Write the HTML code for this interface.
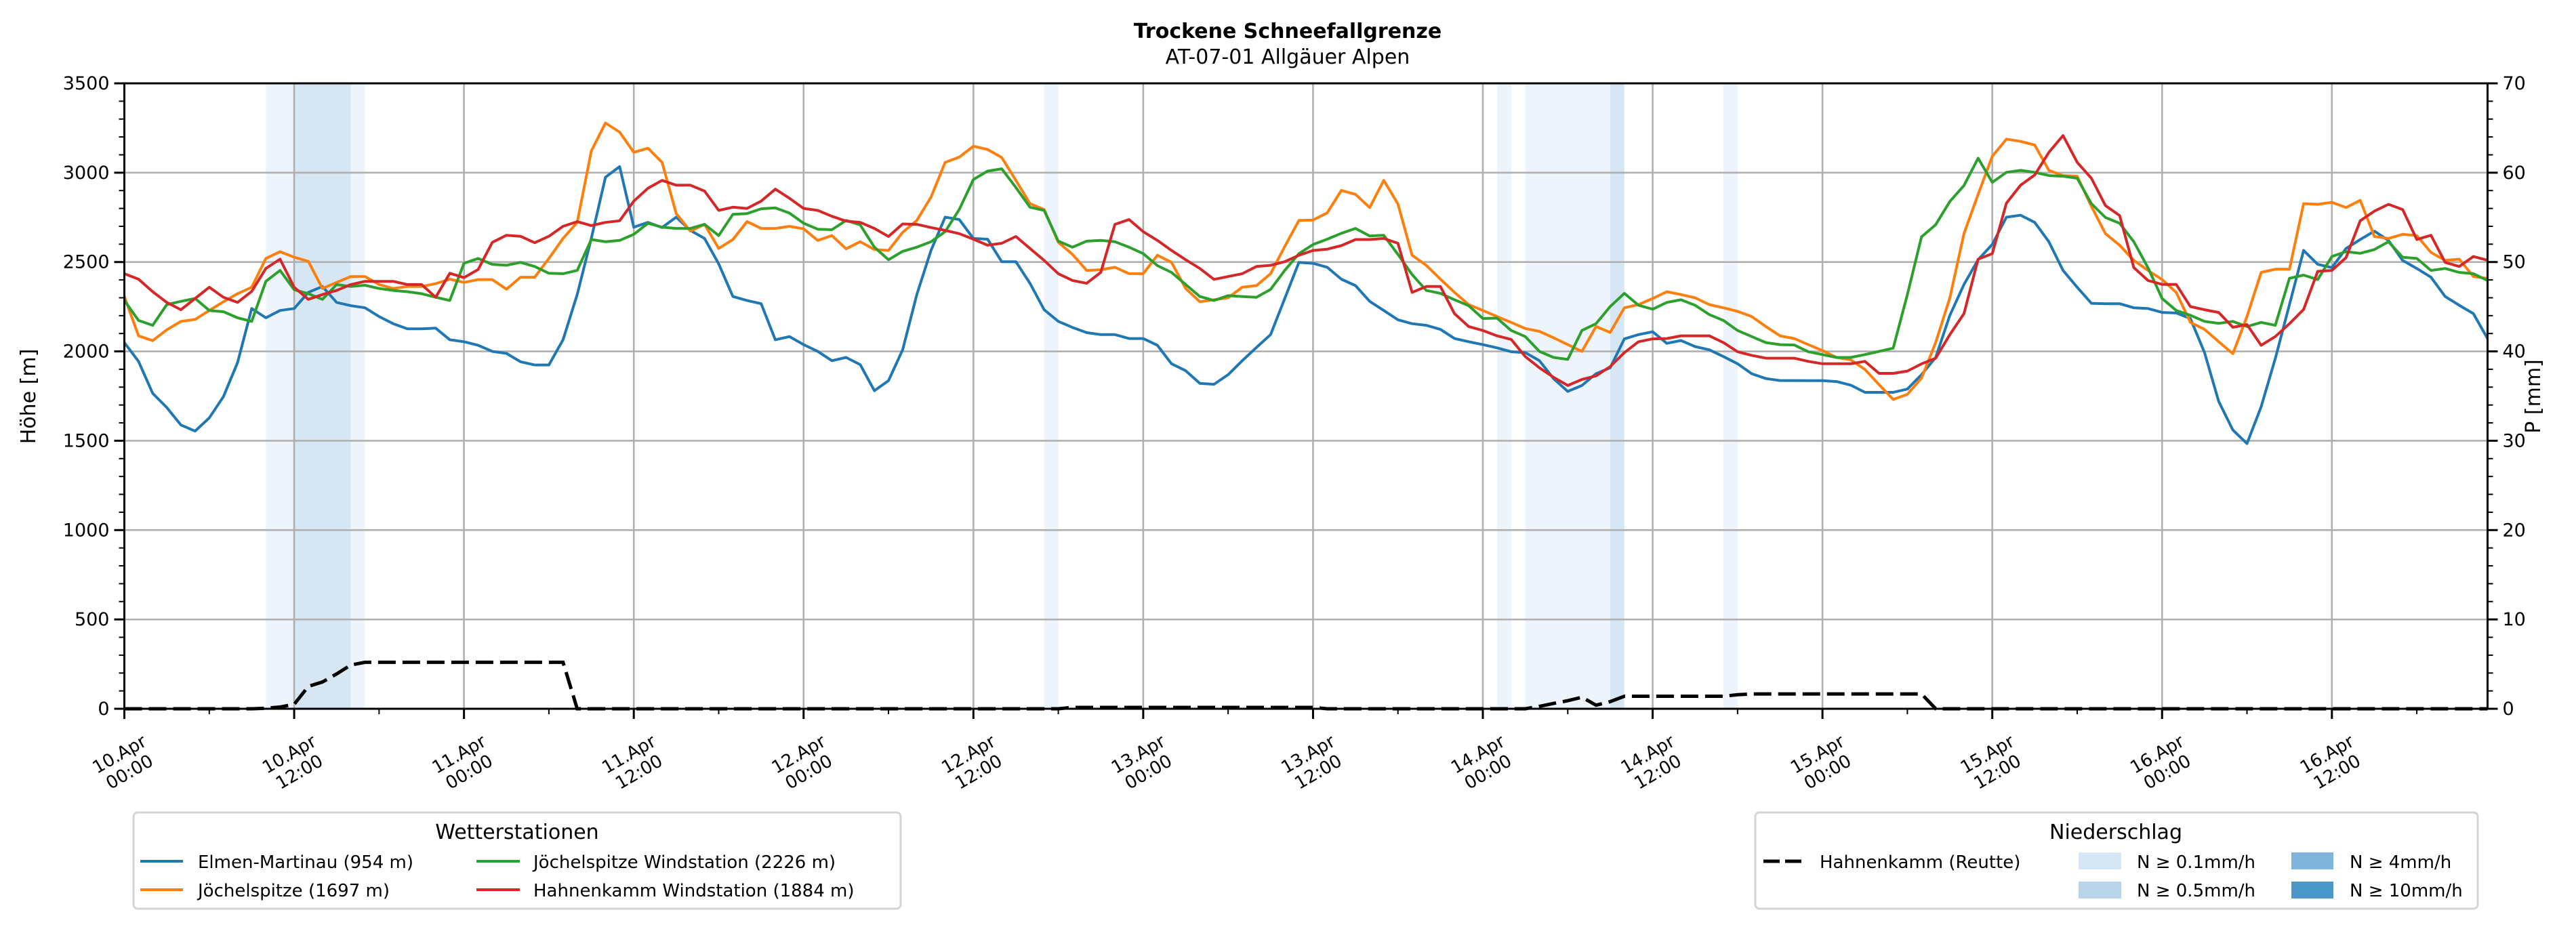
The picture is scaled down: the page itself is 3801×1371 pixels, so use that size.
<!DOCTYPE html>
<html><head><meta charset="utf-8">
<style>
html,body{margin:0;padding:0;background:#fff;}
svg{display:block;font-family:"DejaVu Sans","Liberation Sans",sans-serif;}
</style></head>
<body>
<svg id="chart" width="3801" height="1371" viewBox="0 0 3801 1371" xmlns="http://www.w3.org/2000/svg">
<text x="1900" y="56" text-anchor="middle" font-size="30" font-weight="bold">Trockene Schneefallgrenze</text>
<text x="1900" y="94" text-anchor="middle" font-size="30">AT-07-01 Allgäuer Alpen</text>
<g id="bands"></g>
<g id="grid"></g>
<g id="series"></g>
<g id="axes"></g>
<text transform="translate(52,585) rotate(-90)" text-anchor="middle" font-size="30">Höhe [m]</text>
<text transform="translate(3748,585) rotate(-90)" text-anchor="middle" font-size="30">P [mm]</text>

<g>
<rect x="197" y="1199" width="1132" height="142" rx="6" fill="#fff" stroke="#d4d4d4" stroke-width="3"/>
<text x="763" y="1238" text-anchor="middle" font-size="30">Wetterstationen</text>
<line x1="207" y1="1271" x2="270" y2="1271" stroke="#1f77b4" stroke-width="4"/>
<text x="292" y="1281" font-size="26">Elmen-Martinau (954 m)</text>
<line x1="207" y1="1313" x2="270" y2="1313" stroke="#ff7f0e" stroke-width="4"/>
<text x="292" y="1323" font-size="26">Jöchelspitze (1697 m)</text>
<line x1="703" y1="1271" x2="767" y2="1271" stroke="#2ca02c" stroke-width="4"/>
<text x="787" y="1281" font-size="26">Jöchelspitze Windstation (2226 m)</text>
<line x1="703" y1="1313" x2="767" y2="1313" stroke="#d62728" stroke-width="4"/>
<text x="787" y="1323" font-size="26">Hahnenkamm Windstation (1884 m)</text>
</g>

<g>
<rect x="2590" y="1199" width="1066" height="142" rx="6" fill="#fff" stroke="#d4d4d4" stroke-width="3"/>
<text x="3122" y="1238" text-anchor="middle" font-size="30">Niederschlag</text>
<line x1="2602" y1="1271" x2="2660" y2="1271" stroke="#000" stroke-width="5" stroke-dasharray="24,8"/>
<text x="2685" y="1281" font-size="26">Hahnenkamm (Reutte)</text>
<rect x="3067" y="1258" width="63" height="25" fill="#d6e6f4"/>
<text x="3153" y="1281" font-size="26">N ≥ 0.1mm/h</text>
<rect x="3067" y="1301" width="63" height="25" fill="#b9d4ea"/>
<text x="3153" y="1323" font-size="26">N ≥ 0.5mm/h</text>
<rect x="3381" y="1258" width="62" height="25" fill="#7fb5da"/>
<text x="3467" y="1281" font-size="26">N ≥ 4mm/h</text>
<rect x="3381" y="1301" width="62" height="25" fill="#4a97c9"/>
<text x="3467" y="1323" font-size="26">N ≥ 10mm/h</text>
</g>
</svg>
<script>
const elmen = [2049,1944,1765,1686,1588,1554,1628,1747,1937,2240,2188,2229,
2240,2330,2363,2274,2256,2244,2195,2155,2126,2126,2130,2065,
2054,2034,2000,1989,1942,1924,1924,2065,2318,2632,2975,3034,
2695,2722,2693,2751,2677,2632,2490,2307,2285,2267,2065,2083,
2038,2000,1948,1966,1926,1780,1836,2009,2318,2565,2751,2738,
2632,2628,2502,2502,2381,2233,2168,2134,2105,2094,2094,2072,
2072,2034,1931,1892,1821,1816,1870,1948,2022,2094,2296,2498,
2493,2471,2404,2368,2280,2229,2177,2155,2146,2123,2072,2054,
2038,2020,1998,1993,1948,1847,1776,1809,1875,1908,2070,2094,
2110,2045,2061,2027,2009,1971,1931,1875,1848,1837,1837,1836,
1836,1831,1811,1771,1771,1771,1789,1870,1966,2202,2374,2513,
2599,2751,2762,2722,2614,2453,2359,2269,2267,2267,2244,2240,
2218,2215,2184,1993,1720,1560,1484,1690,1960,2262,2565,2487,
2469,2576,2626,2673,2621,2509,2464,2415,2307,2258,2211,2072];
const joechel = [2307,2087,2060,2121,2168,2179,2229,2278,2323,2359,2520,2558,
2527,2504,2352,2386,2419,2419,2374,2352,2363,2363,2379,2404,
2386,2402,2402,2348,2415,2415,2520,2632,2722,3121,3278,3227,
3114,3137,3058,2771,2673,2711,2576,2626,2726,2688,2688,2700,
2686,2621,2648,2574,2614,2570,2565,2666,2733,2863,3058,3087,
3148,3130,3085,2957,2827,2794,2610,2543,2453,2457,2471,2435,
2435,2538,2498,2352,2278,2289,2300,2359,2368,2435,2587,2733,
2735,2775,2901,2879,2805,2957,2825,2538,2482,2404,2330,2262,
2229,2195,2162,2128,2112,2076,2038,2000,2139,2106,2244,2262,
2296,2334,2318,2300,2262,2244,2224,2195,2139,2087,2072,2038,
2005,1966,1953,1899,1814,1731,1760,1850,2050,2300,2659,2879,
3092,3188,3175,3155,3013,2984,2980,2812,2659,2594,2509,2453,
2402,2330,2162,2123,2054,1987,2195,2442,2460,2460,2827,2823,
2834,2805,2845,2643,2632,2655,2648,2554,2509,2516,2419,2408];
const joechelWind = [2285,2173,2146,2262,2280,2296,2229,2222,2188,2168,2392,2453,
2345,2323,2291,2374,2363,2370,2352,2341,2334,2323,2303,2285,
2493,2520,2487,2482,2498,2475,2437,2435,2453,2626,2614,2621,
2655,2717,2695,2688,2688,2711,2648,2767,2771,2798,2803,2774,
2717,2684,2681,2733,2708,2583,2513,2560,2583,2614,2670,2794,
2962,3009,3022,2917,2807,2789,2617,2583,2617,2621,2614,2583,
2547,2480,2442,2374,2307,2285,2312,2307,2303,2347,2453,2547,
2598,2628,2661,2688,2646,2650,2543,2430,2341,2325,2289,2256,
2184,2186,2117,2083,2000,1966,1955,2117,2155,2251,2325,2258,
2236,2274,2289,2258,2206,2173,2117,2083,2049,2038,2036,1998,
1982,1966,1966,1982,2000,2018,2318,2641,2709,2839,2928,3081,
2946,3002,3013,3002,2984,2980,2969,2827,2749,2717,2614,2469,
2296,2229,2202,2168,2157,2168,2139,2162,2146,2409,2427,2402,
2531,2558,2549,2570,2614,2527,2520,2453,2464,2442,2435,2397];
const hahnWind = [2435,2404,2334,2274,2233,2296,2359,2303,2274,2336,2464,2516,
2359,2291,2318,2341,2374,2392,2392,2392,2374,2374,2303,2437,
2413,2458,2610,2650,2644,2608,2644,2700,2726,2704,2722,2731,
2841,2913,2957,2930,2930,2897,2789,2807,2800,2841,2908,2857,
2800,2789,2756,2729,2722,2688,2643,2713,2711,2693,2677,2659,
2628,2594,2605,2643,2576,2509,2435,2397,2381,2442,2711,2738,
2670,2621,2565,2513,2464,2403,2419,2435,2475,2482,2502,2538,
2565,2572,2592,2626,2626,2632,2605,2330,2363,2363,2211,2139,
2117,2087,2067,1971,1908,1855,1809,1843,1863,1915,1993,2054,
2070,2072,2087,2087,2087,2049,1998,1978,1962,1962,1962,1944,
1931,1931,1931,1944,1877,1877,1890,1930,1962,2094,2211,2516,
2547,2830,2930,2987,3114,3208,3058,2969,2816,2760,2469,2397,
2375,2375,2251,2233,2218,2135,2150,2034,2083,2155,2235,2448,
2453,2525,2731,2785,2823,2794,2626,2650,2498,2475,2531,2510];
const precipReutte = [0,0,0,0,0,0,0,0,0,0,0.05,0.2,
0.5,2.5,3.0,3.9,4.9,5.2,5.2,5.2,5.2,5.2,5.2,5.2,
5.2,5.2,5.2,5.2,5.2,5.2,5.2,5.2,0,0,0,0,
0,0,0,0,0,0,0,0,0,0,0,0,
0,0,0,0,0,0,0,0,0,0,0,0,
0,0,0,0,0,0,0,0.15,0.15,0.15,0.15,0.15,
0.15,0.15,0.15,0.15,0.15,0.15,0.15,0.15,0.15,0.15,0.15,0.15,
0.15,0,0,0,0,0,0,0,0,0,0,0,
0,0,0,0,0.27,0.6,0.9,1.3,0.4,0.8,1.4,1.4,
1.4,1.4,1.4,1.4,1.4,1.4,1.57,1.66,1.66,1.66,1.66,1.66,
1.66,1.66,1.66,1.66,1.66,1.66,1.66,1.66,0,0,0,0,
0,0,0,0,0,0,0,0,0,0,0,0,
0,0,0,0,0,0,0,0,0,0,0,0,
0,0,0,0,0,0,0,0,0,0,0,0];
const bandStart = [10, 12, 16, 65, 97, 99, 105, 113];
const bandEnd   = [12, 16, 17, 66, 98, 105, 106, 114];
const bandLevel = [1, 2, 1, 1, 1, 1, 2, 1];
const xTickLabels = ["10.Apr\n00:00","10.Apr\n12:00","11.Apr\n00:00","11.Apr\n12:00","12.Apr\n00:00","12.Apr\n12:00","13.Apr\n00:00","13.Apr\n12:00","14.Apr\n00:00","14.Apr\n12:00","15.Apr\n00:00","15.Apr\n12:00","16.Apr\n00:00","16.Apr\n12:00"];
const yTicks = [0,500,1000,1500,2000,2500,3000,3500];
const y2Ticks = [0,10,20,30,40,50,60,70];

const NS="http://www.w3.org/2000/svg";
const XL=183.5, XR=3670.5, YB=1046, YT=123, HMAX=167;
const x = h => XL + (XR-XL)*h/HMAX;
const y = v => YB - (YB-YT)*v/3500;
const y2 = v => YB - (YB-YT)*v/70;
function mk(tag, attrs, parent){const e=document.createElementNS(NS,tag);for(const k in attrs)e.setAttribute(k,attrs[k]);parent.appendChild(e);return e;}
const bands=document.getElementById('bands'), grid=document.getElementById('grid'), ser=document.getElementById('series'), axes=document.getElementById('axes');

bandStart.forEach((s,i)=>{
  const r=mk('rect',{x:x(s),y:YT,width:x(bandEnd[i])-x(s),height:YB-YT,fill:bandLevel[i]===2?'#d7e6f3':'#eef4fb'},bands);
  
  
});
xTickLabels.forEach((lab,i)=>{
  const gx=x(i*12);
  const l=mk('line',{x1:gx,y1:YT,x2:gx,y2:YB,stroke:'#b0b0b0','stroke-width':2.6},grid);
  
  
});
yTicks.forEach(v=>{
  const l=mk('line',{x1:XL,y1:y(v),x2:XR,y2:y(v),stroke:'#b0b0b0','stroke-width':2.6},grid);
  
  
});
const seriesList=[[elmen,'#1f77b4','line-elmen-martinau'],[joechel,'#ff7f0e','line-joechelspitze'],[joechelWind,'#2ca02c','line-joechelspitze-wind'],[hahnWind,'#d62728','line-hahnenkamm-wind']];
seriesList.forEach(([arr,col,name])=>{
  const p=mk('polyline',{points:arr.map((v,i)=>x(i).toFixed(1)+','+y(v).toFixed(1)).join(' '),fill:'none',stroke:col,'stroke-width':4,'stroke-linejoin':'round'},ser);
  
  
});
const dp=mk('polyline',{points:precipReutte.map((v,i)=>x(i).toFixed(1)+','+y2(v).toFixed(1)).join(' '),fill:'none',stroke:'#000','stroke-width':5,'stroke-dasharray':'26,10'},ser);



const fr=mk('rect',{x:XL,y:YT,width:XR-XL,height:YB-YT,fill:'none',stroke:'#000','stroke-width':3},axes);


for(let v=0;v<=3500;v+=100){const maj=v%500===0;mk('line',{x1:XL,y1:y(v),x2:XL-(maj?15:8),y2:y(v),stroke:'#000','stroke-width':maj?3:2},axes);}
yTicks.forEach(v=>{
  const t=mk('text',{x:XL-22,y:y(v)+9,'text-anchor':'end','font-size':27},axes);
  t.textContent=v;
  
  
});
for(let v=0;v<=70;v+=2){const maj=v%10===0;mk('line',{x1:XR,y1:y2(v),x2:XR+(maj?15:8),y2:y2(v),stroke:'#000','stroke-width':maj?3:2},axes);}
y2Ticks.forEach(v=>{
  const t=mk('text',{x:XR+22,y:y2(v)+9,'text-anchor':'start','font-size':27},axes);
  t.textContent=v;
  
  
});
for(let h=0;h<=HMAX;h+=6){const maj=h%12===0;mk('line',{x1:x(h),y1:YB,x2:x(h),y2:YB+(maj?15:8),stroke:'#000','stroke-width':maj?3:2},axes);}
xTickLabels.forEach((lab,i)=>{
  const g=mk('g',{transform:`translate(${x(i*12)},1126) rotate(-30)`},axes);
  
  
  const parts=lab.split('\n');
  const t1=mk('text',{x:0,y:-6,'text-anchor':'middle','font-size':26},g); t1.textContent=parts[0];
  const t2=mk('text',{x:0,y:24,'text-anchor':'middle','font-size':26},g); t2.textContent=parts[1];
});
</script>
</body></html>
